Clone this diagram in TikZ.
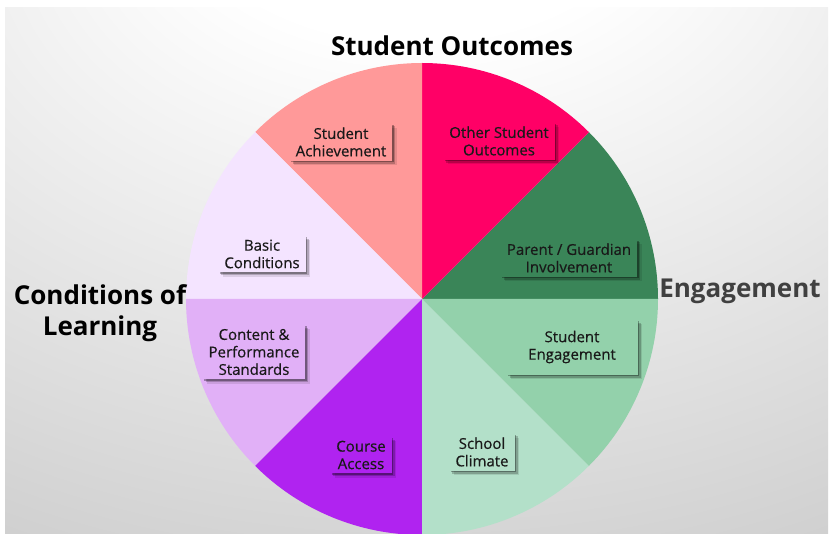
\documentclass[tikz,border=0pt]{standalone}
\usepackage{fontspec}
\setmainfont{Open Sans}
\newfontfamily\lblfont{Open Sans}[FakeBold=0.5]
\usetikzlibrary{shadows}

\definecolor{bggrey}{HTML}{C8C8C8}
\definecolor{pgGreen}{HTML}{3A8558}
\definecolor{osPink}{HTML}{FF0066}
\definecolor{saSalmon}{HTML}{FF9999}
\definecolor{bcLavender}{HTML}{F4E4FF}
\definecolor{cpLilac}{HTML}{E1B0F7}
\definecolor{caPurple}{HTML}{B023F0}
\definecolor{scMint}{HTML}{B3E0C9}
\definecolor{seGreen}{HTML}{93D1AB}
\definecolor{engGrey}{HTML}{404040}

\pgfdeclareradialshading{bgshade}{\pgfpoint{0bp}{42bp}}{%
  color(0bp)=(white); color(14bp)=(white); color(58bp)=(bggrey); color(100bp)=(bggrey)}

\tikzset{
  label box/.style={rectangle, inner xsep=6pt, inner ysep=4pt, align=center,
    font=\lblfont\fontsize{15}{17.5}\selectfont, text=black!90,
    drop shadow={shadow xshift=1.5pt, shadow yshift=-1.5pt, opacity=0.3, fill=black},
    drop shadow={shadow xshift=3pt, shadow yshift=-3pt, opacity=0.2, fill=black},
    drop shadow={shadow xshift=4.5pt, shadow yshift=-4.5pt, opacity=0.1, fill=black}},
  group title/.style={font=\fontsize{26}{31}\selectfont\bfseries, align=center}
}

\begin{document}
\begin{tikzpicture}[x=1pt,y=1pt]
        \useasboundingbox (0,0) rectangle (834,533);
        \clip (0,0) rectangle (834,533);
        \fill[white] (0,0) rectangle (834,533);
        \shade[shading=bgshade] (5,0) rectangle (828,525);

        \coordinate (ctr) at (422,234);

        % the eight slices
        \foreach \a/\c in {0/pgGreen,45/osPink,90/saSalmon,135/bcLavender,
                           180/cpLilac,225/caPurple,270/scMint,315/seGreen}
          \fill[\c] (ctr) -- ++(\a:236pt) arc[start angle=\a, delta angle=45, radius=236pt] -- cycle;

        \node[label box, fill=saSalmon] (ach) at (341,391) {Student\\Achievement};
        \node[label box, fill=osPink] (oth) at (499,392) {Other Student\\Outcomes};
        \node[label box, fill=bcLavender] (bas) at (262,279) {Basic\\Conditions};
        \node[label box, fill=cpLilac] (con) at (254,181) {Content \&\\Performance\\Standards};
        \node[label box, fill=pgGreen] (par) at (569,275) {Parent / Guardian\\Involvement};
        \node[label box, fill=seGreen, minimum width=131pt, minimum height=55pt] (eng) at (572,186) {Student\\Engagement};
        \node[label box, fill=caPurple] (crs) at (361,78) {Course\\Access};
        \node[label box, fill=scMint] (clm) at (482,81) {School\\Climate};

        \node[group title, anchor=base] (out) at (452,477) {Student Outcomes};
        \node[group title] (col) at (100,220) {Conditions of\\Learning};
        \node[group title, text=engGrey, anchor=base] (grp) at (740,235) {Engagement};
    \end{tikzpicture}
\end{document}
